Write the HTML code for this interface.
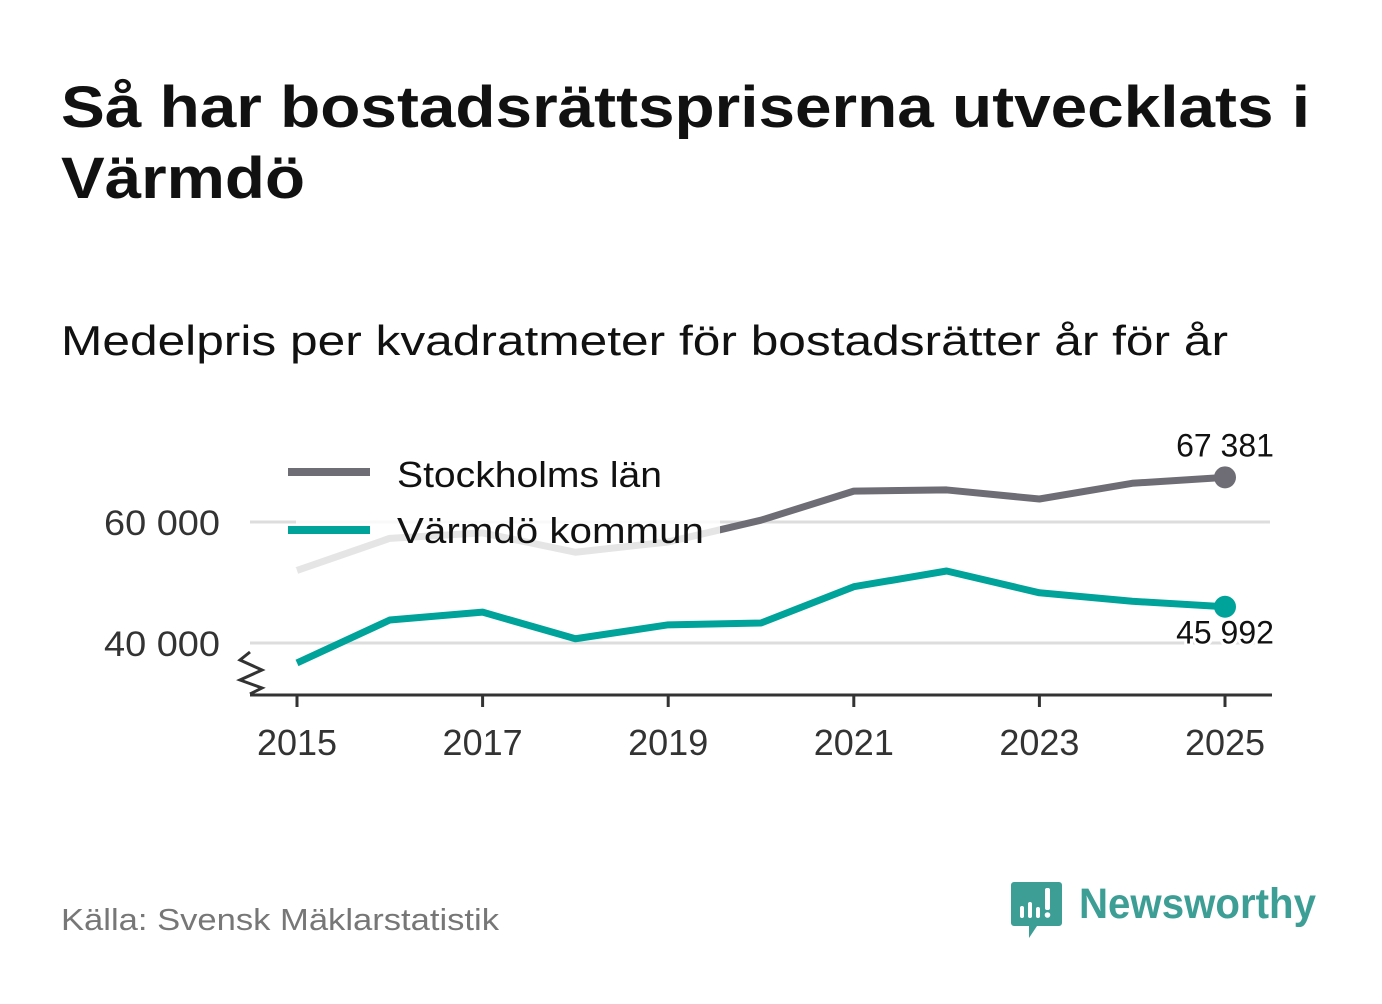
<!DOCTYPE html>
<html><head><meta charset="utf-8"><style>
body{margin:0;width:1382px;height:999px;background:#fff;overflow:hidden;font-family:"Liberation Sans","DejaVu Sans",sans-serif;}
text{font-family:"Liberation Sans","DejaVu Sans",sans-serif;}
</style></head><body>
<svg width="1382" height="999">
<text x="61" y="127" font-size="58" font-weight="bold" fill="#111" textLength="1249" lengthAdjust="spacingAndGlyphs">Så har bostadsrättspriserna utvecklats i</text>
<text x="61" y="198" font-size="58" font-weight="bold" fill="#111" textLength="244" lengthAdjust="spacingAndGlyphs">Värmdö</text>
<text x="61" y="355" font-size="42" fill="#111" textLength="1167" lengthAdjust="spacingAndGlyphs">Medelpris per kvadratmeter för bostadsrätter år för år</text>
<g id="grid"></g>
<g id="lines"></g>
<rect x="296" y="448" width="424" height="126" fill="#fff" opacity="0.82"/>
<g>
<line x1="288" y1="472" x2="370" y2="472" stroke="#6e6d75" stroke-width="8"/>
<text x="397" y="487" font-size="36" fill="#111" textLength="265" lengthAdjust="spacingAndGlyphs">Stockholms län</text>
<line x1="288" y1="530" x2="370" y2="530" stroke="#00a39a" stroke-width="8"/>
<text x="397" y="543" font-size="36" fill="#111" textLength="307" lengthAdjust="spacingAndGlyphs">Värmdö kommun</text>
</g>
<g id="axis"></g>
<polyline points="250,652 240,660 262,670 240,680 262,688 250,694" fill="none" stroke="#333" stroke-width="3"/>
<text x="61" y="930" font-size="31" fill="#777" textLength="438" lengthAdjust="spacingAndGlyphs">Källa: Svensk Mäklarstatistik</text>
<g>
<path d="M1014 882 h45 a3 3 0 0 1 3 3 v38 a3 3 0 0 1 -3 3 h-22 l-8 12 v-12 h-15 a3 3 0 0 1 -3 -3 v-38 a3 3 0 0 1 3 -3z" fill="#3d9e96"/>
<rect x="1020" y="906" width="4" height="12" rx="2" fill="#fff"/><rect x="1028" y="902" width="4" height="16" rx="2" fill="#fff"/><rect x="1036" y="907" width="4" height="11" rx="2" fill="#fff"/><rect x="1045" y="888" width="5" height="22" rx="2" fill="#fff"/><circle cx="1047.5" cy="915" r="2.8" fill="#fff"/>
<text x="1079" y="918" font-size="43" font-weight="bold" fill="#3d9e96" textLength="237" lengthAdjust="spacingAndGlyphs">Newsworthy</text>
</g>
</svg>
<script>
const years=[2015,2016,2017,2018,2019,2020,2021,2022,2023,2024,2025];
const stockholm=[52000,57300,58200,55000,56700,60300,65100,65300,63800,66400,67381];
const varmdo=[36700,43800,45100,40700,43000,43300,49300,51900,48300,46900,45992];
const yTicks=[40000,60000];
const yTickLabels=["40 000","60 000"];
const xTicks=[2015,2017,2019,2021,2023,2025];
const NS="http://www.w3.org/2000/svg";
const x=v=>297+(v-2015)*92.8;
const y=v=>643-(v-40000)*121/20000;
function mk(tag,attrs,parent){const e=document.createElementNS(NS,tag);for(const k in attrs)e.setAttribute(k,attrs[k]);document.getElementById(parent).appendChild(e);return e;}
yTicks.forEach((t,i)=>{
 const l=mk('line',{x1:250,x2:1270,y1:y(t),y2:y(t),stroke:'#ddd','stroke-width':3},'grid');
 
 
 const tx=mk('text',{x:220,y:y(t)+13,'font-size':35,fill:'#333','text-anchor':'end',textLength:116,lengthAdjust:'spacingAndGlyphs'},'grid');
 tx.textContent=yTickLabels[i];
 
 
});
function series(vals,color,name){
 const p=mk('polyline',{points:vals.map((v,i)=>x(years[i])+','+y(v)).join(' '),fill:'none',stroke:color,'stroke-width':7,'stroke-linejoin':'round'},'lines');
 
 
 const n=vals.length-1;
 const c=mk('circle',{cx:x(years[n]),cy:y(vals[n]),r:11,fill:color},'lines');
 
 
}
series(stockholm,'#6e6d75','stockholm');
series(varmdo,'#00a39a','varmdo');
const fmt=v=>String(v).replace(/\B(?=(\d{3})+(?!\d))/g,' ');
const l1=mk('text',{x:x(2025),y:y(stockholm[10])-21,'font-size':32,fill:'#111','text-anchor':'middle'},'lines');
l1.textContent=fmt(stockholm[10]);


const l2=mk('text',{x:x(2025),y:y(varmdo[10])+37,'font-size':32,fill:'#111','text-anchor':'middle',stroke:'#fff','stroke-width':6,'paint-order':'stroke'},'lines');
l2.textContent=fmt(varmdo[10]);


const ax=mk('line',{x1:250,x2:1272,y1:695,y2:695,stroke:'#333','stroke-width':3},'axis');


xTicks.forEach(t=>{
 const tk=mk('line',{x1:x(t),x2:x(t),y1:695,y2:707,stroke:'#333','stroke-width':3},'axis');
 
 
 const tx=mk('text',{x:x(t),y:755,'font-size':36,fill:'#333','text-anchor':'middle'},'axis');
 tx.textContent=t;
 
 
});
</script>
</body></html>
